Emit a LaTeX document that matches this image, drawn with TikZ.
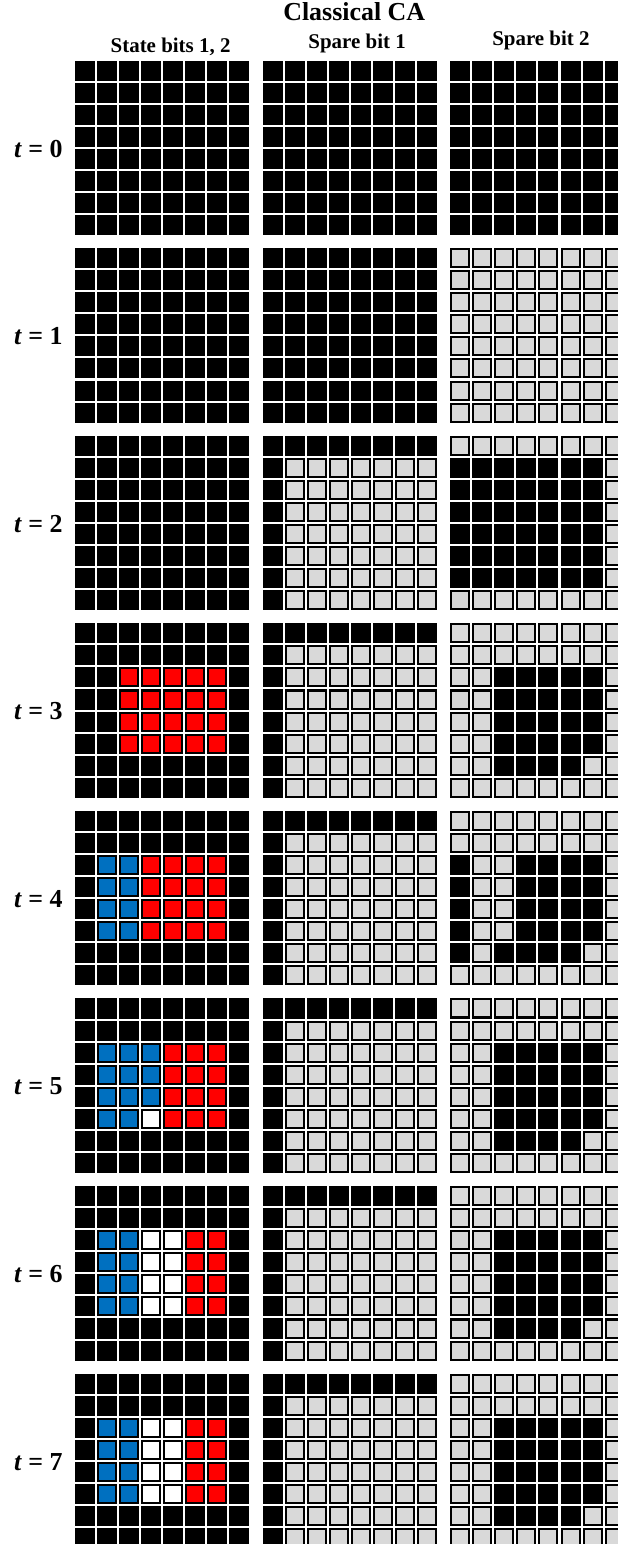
\documentclass[tikz,border=0pt]{standalone}
\usepackage{fontspec}
\setmainfont{Liberation Serif}
\usepackage{tikz}

\definecolor{cagray}{RGB}{217,217,217}
\definecolor{cared}{RGB}{255,0,0}
\definecolor{cablue}{RGB}{0,112,192}

\tikzset{
	cellbox/.style={draw=black, line width=1.3pt},
	titletext/.style={inner sep=0pt, font=\bfseries\fontsize{16.7}{20}\selectfont},
	headtext/.style={inner sep=0pt, font=\bfseries\fontsize{13.5}{16}\selectfont},
}

% grid column, grid row (t), cells from col #3 to #4 and row #5 to #6, colour #7
\newcommand{\cablock}[7]{%
	\foreach \j in {#3,...,#4}{
		\foreach \i in {#5,...,#6}{
			\filldraw[cellbox, fill=#7] ({3.443+8.5*#1+\j},{-2.787-8.5*#2-\i}) rectangle ++(0.816,-0.816);
		}
	}
}

\begin{document}
\begin{tikzpicture}[x=0.5cm, y=0.5cm]
	\useasboundingbox (0,0) rectangle (28.0,-69.96);
	\node[titletext, anchor=base] (title) at (16.05,-0.95) {Classical CA};
	\node[headtext, anchor=base] (hdrstate) at (7.73,-2.36) {State bits 1, 2};
	\node[headtext, anchor=base] (hdrspareone) at (16.18,-2.22) {Spare bit 1};
	\node[headtext, anchor=base] (hdrsparetwo) at (24.51,-2.04) {Spare bit 2};
	\foreach \t in {0,...,7}{
		\node[titletext, anchor=base east] (tlabel\t) at ({2.85},{-7.114-8.5*\t}) {\textit{t} = \t};
	}

	\foreach \t in {0,...,7}{
		\cablock{0}{\t}{0}{7}{0}{7}{black}
		\cablock{1}{\t}{0}{7}{0}{7}{black}
	}
	\foreach \t in {2,...,7}{
		\cablock{1}{\t}{1}{7}{1}{7}{cagray}
	}

	\cablock{0}{3}{2}{6}{2}{5}{cared}
	\cablock{0}{4}{1}{2}{2}{5}{cablue}
	\cablock{0}{4}{3}{6}{2}{5}{cared}
	\cablock{0}{5}{1}{3}{2}{5}{cablue}
	\cablock{0}{5}{4}{6}{2}{5}{cared}
	\cablock{0}{5}{3}{3}{5}{5}{white}
	\foreach \t in {6,7}{
		\cablock{0}{\t}{1}{2}{2}{5}{cablue}
		\cablock{0}{\t}{3}{4}{2}{5}{white}
		\cablock{0}{\t}{5}{6}{2}{5}{cared}
	}

	\cablock{2}{0}{0}{7}{0}{7}{black}
	\foreach \t in {1,...,7}{
		\cablock{2}{\t}{0}{7}{0}{7}{cagray}
	}
	\cablock{2}{2}{0}{6}{1}{6}{black}
	\foreach \t in {3,5,6,7}{
		\cablock{2}{\t}{2}{6}{2}{5}{black}
		\cablock{2}{\t}{2}{5}{6}{6}{black}
	}
	\cablock{2}{4}{0}{0}{2}{6}{black}
	\cablock{2}{4}{3}{6}{2}{5}{black}
	\cablock{2}{4}{2}{5}{6}{6}{black}
\end{tikzpicture}
\end{document}
